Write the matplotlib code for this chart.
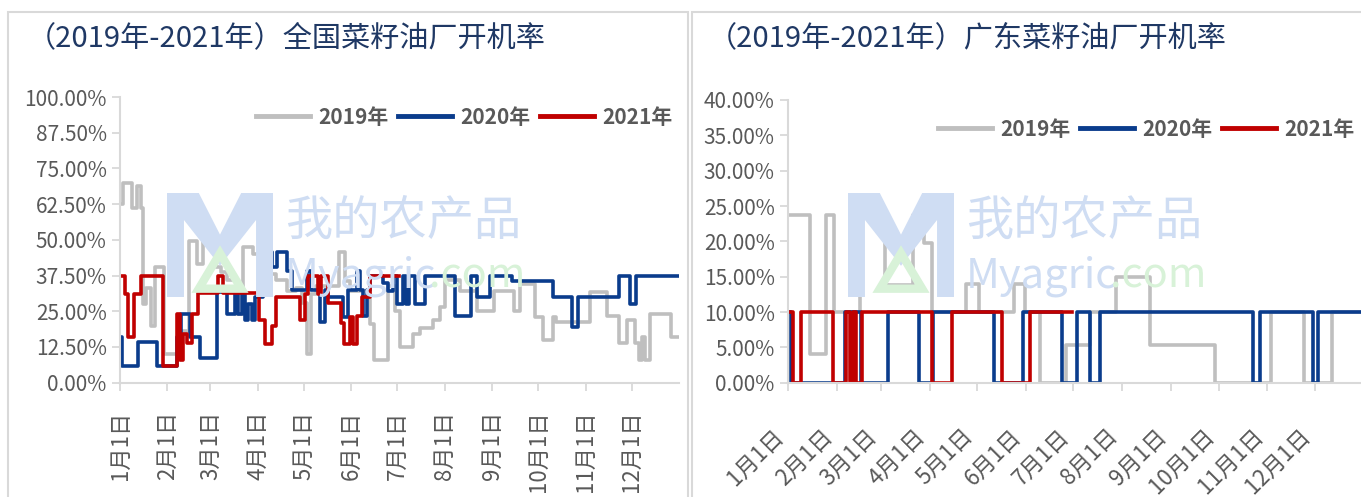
import matplotlib
matplotlib.use('Agg')
import matplotlib.pyplot as plt
from matplotlib.patches import Polygon, Rectangle

plt.rcParams['font.family'] = ['Noto Sans CJK SC', 'DejaVu Sans']

# x = day of year at which each step starts, y = 开机率 (%)
month_days = [0, 31, 59, 90, 120, 151, 181, 212, 243, 273, 304, 334]
month_labels = ['1月1日', '2月1日', '3月1日', '4月1日', '5月1日', '6月1日',
                '7月1日', '8月1日', '9月1日', '10月1日', '11月1日', '12月1日']
series_names = ['2019年', '2020年', '2021年']

# 全国
nat_days_2019 = [0, 2, 8, 11, 13.5, 15, 17, 20, 23, 29, 40, 45, 50, 54, 63, 66, 70, 76, 80, 87,
                 93, 102, 109, 115, 119, 122, 125, 128, 143, 147, 150, 163, 166, 175, 179.5, 183,
                 191.5, 196, 204.5, 209, 212, 222, 233, 244, 257, 261, 271, 276, 283, 285, 307,
                 318, 326, 331, 336, 339, 341, 343, 346, 360, 365]
nat_vals_2019 = [62.5, 70, 61, 69, 61, 27.5, 33, 20, 40.5, 10, 18, 49.7, 41.6, 49.7, 40.4, 38.7,
                 36, 24, 47.4, 45, 38, 36, 32, 33, 28, 10, 31, 34, 45.6, 35.7, 32, 20.6, 8, 34, 25,
                 12.5, 17, 19, 22, 26.5, 36, 32, 25, 32, 25, 34.6, 23, 14.9, 23, 21.2, 31.7, 23.5,
                 14, 22, 14, 8, 16, 8, 24, 16, 16]
nat_days_2020 = [0, 1, 12, 24, 37, 40, 46, 52, 63.5, 69.6, 75, 77, 79.4, 81.6, 83.8, 86, 88, 93.5,
                 95.7, 99, 102.3, 108.8, 112, 121.8, 125, 130.5, 133.8, 136, 145.8, 149, 154.5,
                 156.7, 158.8, 161, 163, 172, 175, 178.4, 180.6, 185, 186.5, 189, 192.6, 199, 219,
                 229.5, 232.8, 241.5, 256, 283, 295, 299, 326, 333, 337, 365]
nat_vals_2020 = [16, 6, 14.3, 6, 16, 24, 16, 8.5, 31.7, 24, 31.7, 24, 31.7, 21.8, 27.6, 21.8, 30,
                 38, 45.6, 40.4, 45.6, 39.2, 32.3, 39.2, 32.3, 21.2, 32.3, 30, 23, 32.3, 39.2, 32.3,
                 23.5, 32.3, 37.5, 35, 32, 37.5, 27.6, 37.5, 27.6, 37.5, 27.6, 37.5, 23.5, 37.5, 30,
                 37.5, 35.5, 30, 19.5, 30, 37.5, 27.6, 37.5, 37.5]
nat_days_2021 = [0, 3, 5, 9, 14, 28, 37, 39, 41, 44, 47, 51, 64, 67.5, 91, 95, 99, 102, 117.5,
                 121, 122.5, 129, 131, 136, 144.5, 146, 150, 152, 154.5, 158, 163, 182]
nat_vals_2021 = [37.5, 31, 16, 31, 37.5, 6, 24, 8, 17, 14, 24, 31.5, 37.5, 31.5, 22, 13.7, 20,
                 30, 22, 31, 37.5, 31, 37.5, 28, 21, 13.7, 23, 13.7, 23.5, 30, 37.5, 37.5]

# 广东
gd_days_2019 = [0, 14, 24, 29, 45.6, 61.5, 79.5, 86, 91, 113, 121, 143, 150, 160, 176, 191.5,
                208, 229.6, 271, 306, 327, 345, 365]
gd_vals_2019 = [23.7, 4, 23.7, 10, 23.7, 13.8, 23.7, 19.7, 10, 14, 10, 14, 10, 0, 5.3, 10, 15,
                5.3, 0, 10, 0, 10, 10]
gd_days_2020 = [0, 1.7, 36, 46, 63.6, 83.3, 91.7, 130.6, 149.2, 173.5, 183, 191.5, 197.8, 295,
                299.3, 332.7, 336.3, 365]
gd_vals_2020 = [10, 0, 10, 0, 10, 0, 10, 0, 10, 0, 10, 0, 10, 0, 10, 0, 10, 10]
gd_days_2021 = [0, 3.4, 8.3, 28.7, 37, 39.5, 41, 43, 47, 91, 104, 135.5, 153.5, 180]
gd_vals_2021 = [10, 0, 10, 0, 10, 0, 10, 0, 10, 0, 10, 0, 10, 10]

colors = ['#BFBFBF', '#0A3C8C', '#C00000']
W, H = 1361, 497

fig = plt.figure(figsize=(W / 100, H / 100), dpi=100)

# panel frames
for x0, x1 in [(8, 688), (692, 1366)]:
    fig.patches.append(Rectangle((x0 / W, -0.05), (x1 - x0) / W, 1.05 - 12 / H,
                                 transform=fig.transFigure, fill=False,
                                 edgecolor='#D9D9D9', linewidth=1.5))

fig.text(27 / W, 1 - 38 / H, '（2019年-2021年）全国菜籽油厂开机率', fontsize=21,
         color='#1F3864', va='center', ha='left')
fig.text(708 / W, 1 - 38 / H, '（2019年-2021年）广东菜籽油厂开机率', fontsize=21,
         color='#1F3864', va='center', ha='left')


def watermark(x0):
    # logo M + text, pixel positions relative to the logo's left edge
    lx, ly, lw, lh = x0, 193, 106, 104
    m = [(0, 0), (0, 1), (0.3, 1), (0.5, 0.6), (0.7, 1), (1, 1), (1, 0), (0.84, 0),
         (0.84, 0.74), (0.5, 0.3), (0.16, 0.74), (0.16, 0)]
    pts = [((lx + u * lw) / W, 1 - (ly + (1 - v) * lh) / H) for u, v in m]
    fig.patches.append(Polygon(pts, closed=True, transform=fig.transFigure,
                               facecolor='#CFDDF3', edgecolor='none', zorder=0))
    tri = [(0.3, 0.08), (0.5, 0.42), (0.7, 0.08)]
    pts = [((lx + u * lw) / W, 1 - (ly + (1 - v) * lh) / H) for u, v in tri]
    fig.patches.append(Polygon(pts, closed=True, transform=fig.transFigure,
                               facecolor='none', edgecolor='#D8F2D8', linewidth=6, zorder=0))
    fig.text((x0 + 118) / W, 1 - 222 / H, '我的农产品', fontsize=34, color='#CFDDF3',
             ha='left', va='center', zorder=0)
    fig.text((x0 + 118) / W, 1 - 276 / H, 'Myagric', fontsize=30, color='#CFDDF3',
             ha='left', va='center', zorder=0)
    fig.text((x0 + 262) / W, 1 - 276 / H, '.com', fontsize=30, color='#D8F2D8',
             ha='left', va='center', zorder=0)


watermark(167)
watermark(848)


def setup(ax, ymax, ystep, rot):
    ax.set_facecolor('none')
    for s in ['top', 'right']:
        ax.spines[s].set_visible(False)
    for s in ['left', 'bottom']:
        ax.spines[s].set_color('#D9D9D9')
        ax.spines[s].set_linewidth(1.5)
    ax.set_xlim(0, 365)
    ax.set_ylim(0, ymax)
    yt = [i * ystep for i in range(int(round(ymax / ystep)) + 1)]
    ax.set_yticks(yt)
    ax.set_yticklabels([f'{v:.2f}%' for v in yt], fontsize=15, color='#595959')
    ax.set_xticks(month_days)
    if rot == 90:
        ax.set_xticklabels(month_labels, rotation=90, fontsize=16, color='#595959',
                           ha='center', va='top')
        ax.tick_params(axis='x', pad=14)
    else:
        ax.set_xticklabels(month_labels, rotation=45, fontsize=16, color='#595959',
                           ha='right', va='top')
        ax.tick_params(axis='x', pad=24)
    ax.tick_params(colors='#D9D9D9', length=6, width=1.3, labelcolor='#595959')


ax1 = fig.add_axes([120 / W, 1 - 382.7 / H, (679 - 120) / W, (382.7 - 97) / H])
ax2 = fig.add_axes([788 / W, 1 - 382.7 / H, (1363.6 - 788) / W, (382.7 - 100) / H])

nat = [(nat_days_2019, nat_vals_2019), (nat_days_2020, nat_vals_2020), (nat_days_2021, nat_vals_2021)]
gd = [(gd_days_2019, gd_vals_2019), (gd_days_2020, gd_vals_2020), (gd_days_2021, gd_vals_2021)]

for ax, data in [(ax1, nat), (ax2, gd)]:
    for (d, v), c, name in zip(data, colors, series_names):
        ax.step(d, v, where='post', color=c, linewidth=2.6, label=name)

setup(ax1, 100, 12.5, 90)
setup(ax2, 40, 5, 45)

leg_kw = dict(ncol=3, frameon=False, handlelength=2.6, handletextpad=0.4, columnspacing=0.45,
              borderpad=0, borderaxespad=0, loc='center',
              prop={'size': 15, 'weight': 'bold'})
l1 = ax1.legend(bbox_to_anchor=(464 / W, 1 - 117 / H), bbox_transform=fig.transFigure, **leg_kw)
l2 = ax2.legend(bbox_to_anchor=(1146 / W, 1 - 129 / H), bbox_transform=fig.transFigure, **leg_kw)
for lg in (l1, l2):
    for t in lg.get_texts():
        t.set_color('#595959')
    for ln in lg.get_lines():
        ln.set_linewidth(3.5)

fig.savefig('out.png', dpi=100)
